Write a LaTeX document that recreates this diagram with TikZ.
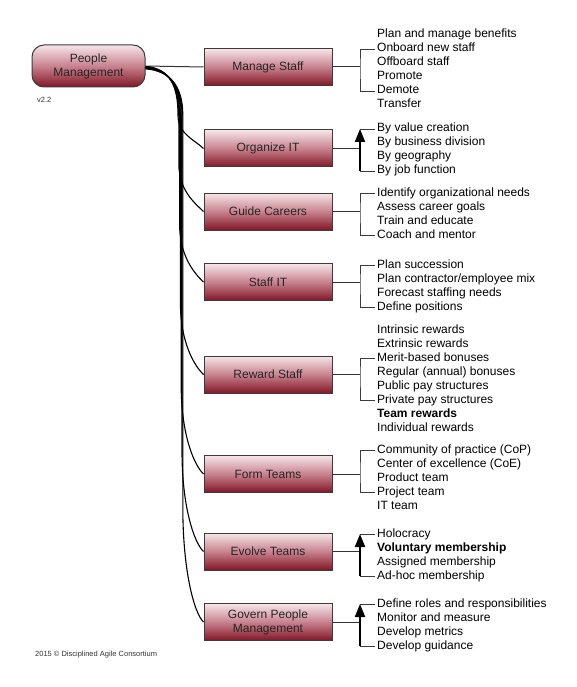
\documentclass[tikz,border=0pt]{standalone}
\usepackage{fontspec}
\setmainfont{Liberation Sans}
\usetikzlibrary{arrows.meta}
\definecolor{boxtop}{RGB}{246,230,233}
\definecolor{boxmid}{RGB}{200,130,142}
\definecolor{boxbot}{RGB}{130,22,38}
\definecolor{edgegray}{RGB}{60,60,60}
\tikzset{
  box/.style={draw=edgegray, line width=1pt, top color=boxtop, bottom color=boxbot, middle color=boxmid,
    minimum width=128pt, minimum height=37pt, inner sep=1pt, align=center,
    font=\fontsize{12}{14}\selectfont, text=black!85},
  rootbox/.style={box, rounded corners=12pt, minimum width=113pt, minimum height=42pt},
  item/.style={anchor=west, yshift=-2pt, inner xsep=2pt, inner ysep=0pt, text height=9pt, text depth=3pt,
    font=\fontsize{12}{14}\selectfont},
  small/.style={anchor=west, inner sep=0pt, font=\fontsize{7.5}{9}\selectfont, text=black!80},
  brk/.style={draw=edgegray, line width=0.9pt},
  conn/.style={draw=black!80, line width=1pt},
  branch/.style={draw=black, line width=1.1pt},
  uparrow/.style={draw=black, line width=2pt, -{Triangle[width=10pt,length=13pt]}},
}
\begin{document}
\begin{tikzpicture}[x=1pt,y=-1pt]
\useasboundingbox (0,0) rectangle (576,687);
% root
\node[rootbox] (root) at (88.5,66) {People\\Management};
\node[small] (ver) at (37,100) {v2.2};
\node[small] (copy) at (35,655) {2015 © Disciplined Agile Consortium};
% boxes
\node[box] (b1) at (268,67) {Manage Staff};
\node[box] (b2) at (268,148.5) {Organize IT};
\node[box] (b3) at (268,211.5) {Guide Careers};
\node[box] (b4) at (268,282) {Staff IT};
\node[box] (b5) at (268,374.5) {Reward Staff};
\node[box] (b6) at (268,474) {Form Teams};
\node[box] (b7) at (268,551.5) {Evolve Teams};
\node[box] (b8) at (268,622) {Govern People\\Management};
% branches
\draw[conn] (root.east) -- (b1.west);
\foreach \b/\y/\d/\xv/\s in {b2/148.5/33/178/0.4,b3/211.5/48/178.8/0.8,b4/282/58/179.6/1.2,b5/374.5/72/180.4/1.6,b6/474/88/181.2/2.0,b7/551.5/100/182/2.4,b8/622/115/182.8/2.8}{
  \draw[branch] ([yshift=-\s pt]root.east) .. controls (170,68+\s) and (\xv,86) .. (\xv,115)
     -- (\xv,\y-\d) .. controls (\xv,\y-0.45*\d) and (194,\y-9) .. (\b.west);
}
% Manage Staff items
\node[item] (i11) at (375,33) {Plan and manage benefits};
\node[item] (i12) at (375,47) {Onboard new staff};
\node[item] (i13) at (375,61) {Offboard staff};
\node[item] (i14) at (375,75) {Promote};
\node[item] (i15) at (375,89) {Demote};
\node[item] (i16) at (375,103) {Transfer};
\coordinate (k1) at (360,67);
\draw[conn] (b1.east) -- (k1);
\draw[brk] (i12.west) -| (k1) |- (i15.west);
% Organize IT items
\node[item] (i21) at (375,127) {By value creation};
\node[item] (i22) at (375,141) {By business division};
\node[item] (i23) at (375,155) {By geography};
\node[item] (i24) at (375,169) {By job function};
\coordinate (k2) at (360,148.5);
\draw[conn] (b2.east) -- (k2);
\draw[brk] (i21.west) -- (i21.west -| k2);
\draw[brk] (i24.west) -- (i24.west -| k2);
\draw[uparrow] (i24.west -| k2) -- (i21.west -| k2);
% Guide Careers items
\node[item] (i31) at (375,191) {Identify organizational needs};
\node[item] (i32) at (375,205) {Assess career goals};
\node[item] (i33) at (375,219) {Train and educate};
\node[item] (i34) at (375,233) {Coach and mentor};
\coordinate (k3) at (360,211.5);
\draw[conn] (b3.east) -- (k3);
\draw[brk] (i31.west) -| (k3) |- (i34.west);
% Staff IT items
\node[item] (i41) at (375,263) {Plan succession};
\node[item] (i42) at (375,277) {Plan contractor/employee mix};
\node[item] (i43) at (375,291) {Forecast staffing needs};
\node[item] (i44) at (375,305) {Define positions};
\coordinate (k4) at (360,282);
\draw[conn] (b4.east) -- (k4);
\draw[brk] (i41.west) -| (k4) |- (i44.west);
% Reward Staff items
\node[item] (i51) at (375,328) {Intrinsic rewards};
\node[item] (i52) at (375,342) {Extrinsic rewards};
\node[item] (i53) at (375,356) {Merit-based bonuses};
\node[item] (i54) at (375,370) {Regular (annual) bonuses};
\node[item] (i55) at (375,384) {Public pay structures};
\node[item] (i56) at (375,398) {Private pay structures};
\node[item] (i57) at (375,412) {\bfseries Team rewards};
\node[item] (i58) at (375,426) {Individual rewards};
\coordinate (k5) at (360,374.5);
\draw[conn] (b5.east) -- (k5);
\draw[brk] (i53.west) -| (k5) |- (i56.west);
% Form Teams items
\node[item] (i61) at (375,448) {Community of practice (CoP)};
\node[item] (i62) at (375,462) {Center of excellence (CoE)};
\node[item] (i63) at (375,476) {Product team};
\node[item] (i64) at (375,490) {Project team};
\node[item] (i65) at (375,504) {IT team};
\coordinate (k6) at (360,474);
\draw[conn] (b6.east) -- (k6);
\draw[brk] (i61.west) -| (k6) |- (i64.west);
% Evolve Teams items
\node[item] (i71) at (375,532) {Holocracy};
\node[item] (i72) at (375,546) {\bfseries Voluntary membership};
\node[item] (i73) at (375,560) {Assigned membership};
\node[item] (i74) at (375,574) {Ad-hoc membership};
\coordinate (k7) at (360,551.5);
\draw[conn] (b7.east) -- (k7);
\draw[brk] (i71.west) -- (i71.west -| k7);
\draw[brk] (i74.west) -- (i74.west -| k7);
\draw[uparrow] (i74.west -| k7) -- (i71.west -| k7);
% Govern items
\node[item] (i81) at (375,602) {Define roles and responsibilities};
\node[item] (i82) at (375,616) {Monitor and measure};
\node[item] (i83) at (375,630) {Develop metrics};
\node[item] (i84) at (375,644) {Develop guidance};
\coordinate (k8) at (360,622);
\draw[conn] (b8.east) -- (k8);
\draw[brk] (i81.west) -- (i81.west -| k8);
\draw[brk] (i84.west) -- (i84.west -| k8);
\draw[uparrow] (i84.west -| k8) -- (i81.west -| k8);
\end{tikzpicture}
\end{document}
